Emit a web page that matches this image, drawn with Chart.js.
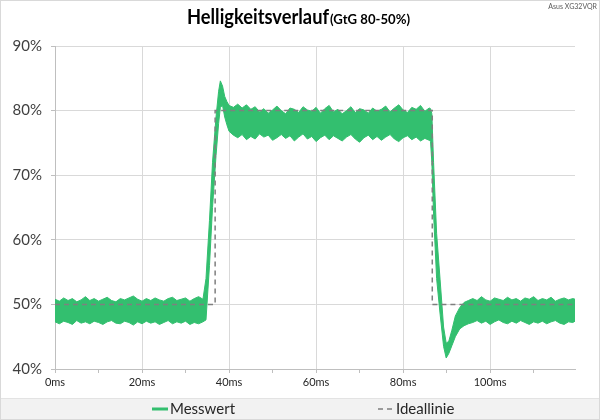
<!DOCTYPE html>
<html>
<head>
<meta charset="utf-8">
<script src="https://cdn.jsdelivr.net/npm/chart.js@4.4.1/dist/chart.umd.min.js"></script>
<style>
  html, body { margin: 0; padding: 0; background: #fff; }
  #wrap { width: 600px; height: 420px; position: relative; }
</style>
</head>
<body>
<div id="wrap"><canvas id="myChart" width="600" height="420"></canvas></div>
<script>
const ctx = document.getElementById("myChart").getContext("2d");

const green = "#33bf6f";
const font = "Lato, 'Open Sans', sans-serif";

const measTime = [
  0, 1, 2, 3, 4, 5, 6, 7, 8, 9, 10, 11, 12, 13, 14, 15, 16, 17, 18, 19,
  20, 21, 22, 23, 24, 25, 26, 27, 28, 29, 30, 31, 32, 33, 34,
  34.7, 35.5, 36.2, 37.0, 37.6, 38.0, 38.5, 39.0, 39.5,
  40, 41, 42, 43, 44, 45, 46, 47, 48, 49, 50, 51, 52, 53, 54, 55, 56, 57, 58, 59,
  60, 61, 62, 63, 64, 65, 66, 67, 68, 69, 70, 71, 72, 73, 74, 75, 76, 77, 78, 79,
  80, 81, 82, 83, 84, 85, 86,
  86.3, 86.6, 87.0, 87.7, 88.5, 89.3, 89.9, 90.5, 91.2, 92.0, 93.0, 94.0, 95.0,
  96, 97, 98, 99, 100, 101, 102, 103, 104, 105, 106, 107, 108, 109, 110, 111,
  112, 113, 114, 115, 116, 117, 118, 119, 119.5
];
const measHigh = [
  50.8, 50.5, 51.0, 50.6, 50.9, 50.4, 50.7, 51.2, 50.6, 50.9, 50.5, 50.8, 51.1, 50.6, 50.4, 50.9, 50.7, 51.0, 51.3, 50.8,
  50.5, 50.9, 50.6, 51.0, 50.7, 50.5, 50.9, 51.1, 50.6, 50.8, 51.0, 50.5, 50.9, 51.2, 50.8,
  54, 63, 72, 79, 83, 84.6, 83.8, 82.2, 81.4,
  80.8, 80.5, 81.0, 80.4, 80.9, 80.2, 80.6, 79.8, 80.3, 79.6, 80.1, 80.7, 80.0, 79.5, 80.4, 80.2, 79.7, 80.6, 80.1, 79.9,
  80.5, 79.6, 80.3, 80.8, 79.8, 80.2, 79.5, 80.0, 80.6, 79.7, 80.3, 80.1, 79.6, 80.4, 79.9, 80.2, 80.7, 79.8, 80.4, 80.9,
  80.1, 79.7, 80.5, 80.2, 80.8, 79.9, 80.4,
  80.3, 79.5, 72, 61, 53.8, 46.5, 44, 44.3, 46, 48.2, 49.5, 50.3, 50.6,
  50.9, 50.6, 51.2, 50.7, 50.5, 51.0, 50.8, 50.6, 51.1, 50.7, 50.9, 50.5, 51.0, 50.8, 51.2, 50.6,
  50.9, 50.7, 51.1, 50.5, 50.8, 51.0, 50.7, 50.9, 50.8
];
const measLow = [
  47.3, 47.0, 47.4, 47.2, 46.9, 47.5, 47.1, 47.3, 47.0, 47.4, 47.2, 46.9, 47.3, 47.5, 47.1, 47.0, 47.4, 47.2, 46.8, 47.3,
  47.0, 47.4, 47.1, 47.3, 46.9, 47.2, 47.5, 47.0, 47.3, 47.1, 47.4, 46.9, 47.2, 47.0, 47.3,
  47.6, 56, 65, 73, 78, 80.5, 80.8, 79.0, 77.8,
  76.8, 76.2, 75.8, 76.3, 75.5, 76.0, 75.6, 76.4, 75.9, 76.2, 75.4, 75.8, 76.3, 75.7, 76.1, 75.3, 75.9, 76.4, 75.6, 76.0,
  75.2, 75.8, 76.2, 75.5, 76.1, 75.7, 75.3, 75.9, 76.3, 75.6, 75.1, 75.8, 76.2, 75.5, 76.0, 75.4, 75.9, 76.3, 75.6, 75.2,
  75.8, 76.1, 75.5, 75.9, 75.3, 75.7, 75.4,
  75.2, 72, 64, 54, 48.5, 43.5, 41.7, 42.4, 43.6, 45, 46.2, 46.7, 47.0,
  47.2, 47.5, 47.1, 47.4, 46.9, 47.3, 47.6, 47.2, 47.0, 47.4, 47.1, 47.5, 47.2, 46.9, 47.3, 47.1,
  47.4, 47.0, 47.3, 47.5, 47.1, 46.9, 47.3, 47.2, 47.4
];

// ideal step
const idealTime = [0, 36.8, 36.8, 86.7, 86.7, 119.5];
const idealValue = [50, 50, 80, 80, 50, 50];

const xTicks = [0, 20, 40, 60, 80, 100];
const yTicks = [40, 50, 60, 70, 80, 90];

const toPoints = (xs, ys) => xs.map((x, i) => ({ x: x, y: ys[i] }));

// draws text squeezed to a given width (title font is narrower than Lato)
function fitText(c, text, x, y, width) {
  const w = c.measureText(text).width;
  c.save();
  c.translate(x, y);
  c.scale(width / w, 1);
  c.fillText(text, 0, 0);
  c.restore();
}

// title, frame and legend drawn by hand (title has two font sizes)
const decoPlugin = {
  id: "deco",
  beforeDraw(chart) {
    const c = chart.ctx;
    c.save();
    c.fillStyle = "#fff";
    c.fillRect(0, 0, chart.width, chart.height);
    c.fillStyle = "#f2f2f2";
    c.fillRect(0, 398, chart.width, 22);
    c.strokeStyle = "#e3e3e3";
    c.lineWidth = 1;
    c.beginPath();
    c.moveTo(0, 398.5);
    c.lineTo(chart.width, 398.5);
    c.stroke();
    c.restore();
  },
  afterDraw(chart) {
    const c = chart.ctx;
    c.save();
    // title
    c.fillStyle = "#000";
    c.textBaseline = "alphabetic";
    c.textAlign = "left";
    c.font = "bold 21px " + font;
    fitText(c, "Helligkeitsverlauf", 187, 23.5, 142);
    c.font = "bold 14px " + font;
    fitText(c, "(GtG 80-50%)", 330, 23.5, 80);
    // model label
    c.font = "7px " + font;
    c.fillStyle = "#595959";
    c.textAlign = "right";
    c.fillText("Asus XG32VQR", 597, 9);

    // legend
    c.textAlign = "left";
    c.textBaseline = "middle";
    c.font = "15px " + font;
    c.fillStyle = "#262626";
    c.strokeStyle = green;
    c.lineWidth = 3;
    c.beginPath();
    c.moveTo(152, 409);
    c.lineTo(168, 409);
    c.stroke();
    c.fillText(chart.data.datasets[1].label, 170, 409);
    c.strokeStyle = "#7f7f7f";
    c.lineWidth = 1.5;
    c.setLineDash([5, 4]);
    c.beginPath();
    c.moveTo(378, 409);
    c.lineTo(394, 409);
    c.stroke();
    c.setLineDash([]);
    c.fillText(chart.data.datasets[0].label, 396, 409);

    // frame
    c.strokeStyle = "#d9d9d9";
    c.lineWidth = 1;
    c.strokeRect(0.5, 0.5, chart.width - 1, chart.height - 1);
    c.restore();
  }
};

const data = {
  datasets: [
    {
      label: "Ideallinie",
      data: toPoints(idealTime, idealValue),
      borderColor: "#7f7f7f",
      borderWidth: 1.5,
      borderDash: [5, 4],
      pointRadius: 0,
      fill: false,
      tension: 0
    },
    {
      label: "Messwert",
      data: toPoints(measTime, measHigh),
      borderColor: green,
      backgroundColor: green,
      borderWidth: 1,
      pointRadius: 0,
      fill: "+1",
      tension: 0
    },
    {
      label: "Messwert unten",
      data: toPoints(measTime, measLow),
      borderColor: green,
      backgroundColor: green,
      borderWidth: 1,
      pointRadius: 0,
      fill: false,
      tension: 0
    }
  ]
};

const config = {
  type: "line",
  data: data,
  options: {
    responsive: false,
    animation: false,
    layout: { padding: { left: 0, right: 25, top: 46, bottom: 22 } },
    plugins: {
      legend: { display: false },
      title: { display: false },
      tooltip: { enabled: false }
    },
    scales: {
      x: {
        type: "linear",
        min: 0,
        max: 119.5,
        afterFit: (scale) => { scale.height = 29; },
        afterBuildTicks: (scale) => {
          const t = [];
          for (let v = 0; v <= 110; v += 10) t.push({ value: v });
          scale.ticks = t;
        },
        border: { color: "#bfbfbf" },
        grid: {
          color: (c) => (c.tick && xTicks.includes(c.tick.value) ? "#d9d9d9" : "rgba(0,0,0,0)"),
          tickColor: "#bfbfbf",
          tickLength: 4
        },
        ticks: {
          autoSkip: false,
          maxRotation: 0,
          padding: 3,
          color: "#262626",
          font: { family: font, size: 11 },
          callback: (v) => (xTicks.includes(v) ? v + "ms" : "")
        }
      },
      y: {
        min: 40,
        max: 90,
        afterFit: (scale) => { scale.width = 55; },
        afterBuildTicks: (scale) => {
          scale.ticks = yTicks.map((v) => ({ value: v }));
        },
        border: { color: "#bfbfbf" },
        grid: { color: "#d9d9d9", tickColor: "#bfbfbf", tickLength: 4 },
        ticks: {
          padding: 9,
          color: "#404040",
          font: { family: font, size: 15 },
          callback: (v) => v + "%"
        }
      }
    }
  },
  plugins: [decoPlugin]
};

const myChart = new Chart(ctx, config);
</script>
</body>
</html>
